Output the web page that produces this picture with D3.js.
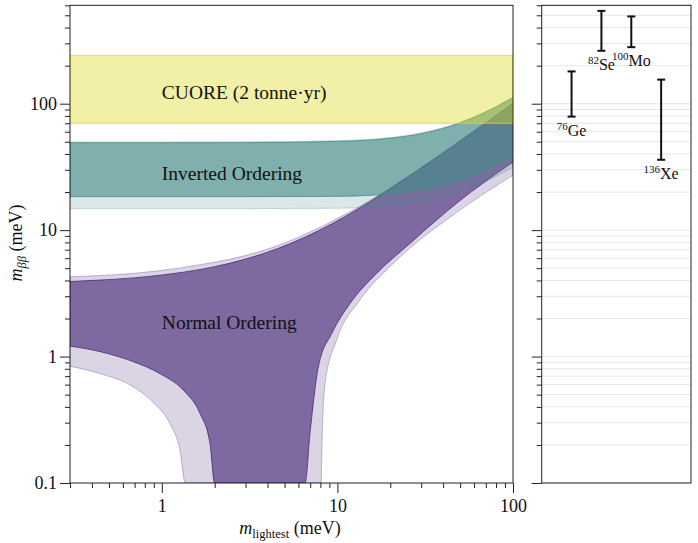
<!DOCTYPE html>
<html>
<head>
<meta charset="utf-8">
<script src="https://cdn.jsdelivr.net/npm/d3@7"></script>
<style>
  body { margin: 0; background: #fff; }
  svg text { font-family: "Liberation Serif", "DejaVu Serif", serif; fill: #111; }
</style>
</head>
<body>
<div id="chart"></div>
<script>
// lightest neutrino mass (meV) and m_bb band edges (meV)
// normal ordering, 1 sigma (dark) band
var noX = [0.3, 0.45, 0.69, 0.98, 1.33, 1.65, 1.88, 2.0, 3, 4.5, 6.55, 6.98, 7.79, 9.28, 11.8, 16.7, 25.9, 47.7, 100];
var noHigh = [3.92, 4.03, 4.19, 4.4, 4.65, 4.88, 5.05, 5.14, 5.9, 7.09, 8.81, 9.18, 9.9, 11.2, 13.5, 18.1, 27.0, 48.4, 100.4];
var noLow = [1.21, 1.09, 0.91, 0.73, 0.54, 0.355, 0.206, 0.1, 0.1, 0.1, 0.1, 0.247, 0.83, 1.52, 2.63, 4.54, 7.85, 16.3, 34.6];
// normal ordering, 3 sigma (light) band
var noX3 = [0.3, 0.45, 0.69, 0.9, 1.11, 1.27, 1.36, 3, 5, 8.07, 8.2, 8.5, 9.9, 13.4, 20.8, 49.9, 100];
var noHigh3 = [4.27, 4.38, 4.55, 4.72, 4.9, 5.02, 5.1, 6.3, 7.9, 10.6, 10.7, 11.0, 12.3, 15.4, 22.4, 50.8, 101];
var noLow3 = [0.84, 0.73, 0.575, 0.43, 0.296, 0.18, 0.1, 0.1, 0.1, 0.1, 0.25, 0.61, 1.35, 2.79, 5.45, 14.4, 27.2];
// inverted ordering
var ioX = [0.3, 1, 3, 10, 20, 30, 50, 70, 100];
var ioHigh = [49.1, 49.1, 49.2, 50.3, 53.3, 57.9, 70.4, 85.7, 111.6];
var ioLow = [18.4, 18.4, 18.4, 18.5, 19.4, 20.8, 25.0, 30.2, 39.2];
var ioHigh3 = [49.8, 49.8, 49.9, 51.0, 54.0, 58.7, 71.3, 86.8, 113];
var ioLow3 = [14.8, 14.8, 14.8, 14.9, 15.6, 16.7, 20.1, 24.3, 31.5];
// CUORE limit band
var cuoreBand = [70, 240];

var bandNames = ["CUORE (2 tonne\u00b7yr)", "Inverted Ordering", "Normal Ordering"];
var bandNameAt = [123, 28.2, 1.87];

// isotope limits (right panel)
var isoMass = ["76", "82", "100", "136"];
var isoName = ["Ge", "Se", "Mo", "Xe"];
var isoLow = [79, 262, 280, 36];
var isoHigh = [180, 542, 490, 155];

var xMajor = [1, 10, 100];
var yMajor = [0.1, 1, 10, 100];

var svgWidth = 698;
var svgHeight = 543;
var main = { left: 70, right: 513, top: 5.3, bottom: 483 };
var side = { left: 541.7, right: 691 };

var svg = d3.select("#chart")
  .append("svg")
  .attr("width", svgWidth)
  .attr("height", svgHeight);

var xScale = d3.scaleLog().domain([0.3, 100]).range([main.left, main.right]);
var yScale = d3.scaleLog().domain([0.1, 600]).range([main.bottom, main.top]);
var isoScale = d3.scaleLinear().domain([0, 5]).range([side.left, side.right]);

svg.append("clipPath")
  .attr("id", "plotClip")
  .append("rect")
  .attr("x", main.left)
  .attr("y", main.top)
  .attr("width", main.right - main.left)
  .attr("height", main.bottom - main.top);

function bandData(xs, lo, hi) {
  return xs.map(function (x, i) { return { x: x, lo: lo[i], hi: hi[i] }; });
}

var area = d3.area()
  .x(d => xScale(d.x))
  .y0(d => yScale(d.lo))
  .y1(d => yScale(d.hi))
  .curve(d3.curveMonotoneX);

// light bands first, dark on top, CUORE last
var bands = [
  { data: bandData(noX3, noLow3, noHigh3), color: "#482878", fill: 0.2, edge: 0.3 },
  { data: bandData(noX, noLow, noHigh), color: "#482878", fill: 0.625, edge: 0.8 },
  { data: bandData(ioX, ioLow3, ioHigh3), color: "#448b88", fill: 0.2, edge: 0.3 },
  { data: bandData(ioX, ioLow, ioHigh), color: "#448b88", fill: 0.6, edge: 0.8 },
  { data: bandData(xScale.domain(), [cuoreBand[0], cuoreBand[0]], [cuoreBand[1], cuoreBand[1]]), color: "#ded921", fill: 0.4, edge: 0.8 }
];

var plot = svg.append("g").attr("clip-path", "url(#plotClip)");

plot.selectAll("path.band")
  .data(bands)
  .enter()
  .append("path")
  .attr("class", "band")
  .attr("d", d => area(d.data))
  .attr("fill", d => d.color)
  .attr("fill-opacity", d => d.fill)
  .attr("stroke", d => d.color)
  .attr("stroke-opacity", d => d.edge)
  .attr("stroke-width", 1);

// band names
plot.selectAll("text.bandName")
  .data(bandNames)
  .enter()
  .append("text")
  .attr("class", "bandName")
  .attr("x", xScale(1))
  .attr("y", (d, i) => yScale(bandNameAt[i]))
  .attr("dominant-baseline", "central")
  .attr("font-size", 19.5)
  .text(d => d);

function isMajor(t) {
  var l = Math.log10(t);
  return Math.abs(l - Math.round(l)) < 1e-6;
}
var xMinor = xScale.ticks().filter(t => !isMajor(t));
var yMinor = yScale.ticks().filter(t => !isMajor(t));

// left panel axes
svg.append("g")
  .attr("transform", `translate(0, ${main.bottom})`)
  .call(d3.axisBottom(xScale).tickValues(xMajor).tickFormat(d => String(d)).tickSize(10).tickSizeOuter(0).tickPadding(6));
svg.append("g")
  .attr("transform", `translate(0, ${main.bottom})`)
  .call(d3.axisBottom(xScale).tickValues(xMinor).tickFormat("").tickSize(5).tickSizeOuter(0));

svg.append("g")
  .attr("transform", `translate(${main.left}, 0)`)
  .call(d3.axisLeft(yScale).tickValues(yMajor).tickFormat(d => String(d)).tickSize(10).tickSizeOuter(0).tickPadding(3));
svg.append("g")
  .attr("transform", `translate(${main.left}, 0)`)
  .call(d3.axisLeft(yScale).tickValues(yMinor).tickFormat("").tickSize(5).tickSizeOuter(0));

svg.selectAll(".tick text")
  .attr("font-size", 18)
  .style("font-family", "'Liberation Serif', serif")
  .attr("fill", "#111");
svg.selectAll(".domain").attr("stroke", "none");

svg.append("rect")
  .attr("x", main.left)
  .attr("y", main.top)
  .attr("width", main.right - main.left)
  .attr("height", main.bottom - main.top)
  .attr("fill", "none")
  .attr("stroke", "#222")
  .attr("stroke-width", 1);

// axis labels
var xLabel = svg.append("text")
  .attr("x", 290)
  .attr("y", 534)
  .attr("text-anchor", "middle")
  .attr("font-size", 18);
xLabel.append("tspan").attr("font-style", "italic").text("m");
xLabel.append("tspan").attr("font-size", 12.5).attr("dy", 4).text("lightest");
xLabel.append("tspan").attr("dy", -4).text(" (meV)");

var yLabel = svg.append("text")
  .attr("transform", "rotate(-90)")
  .attr("x", -243)
  .attr("y", 22)
  .attr("text-anchor", "middle")
  .attr("font-size", 18);
yLabel.append("tspan").attr("font-style", "italic").text("m");
yLabel.append("tspan").attr("font-style", "italic").attr("font-size", 12.5).attr("dy", 4).text("\u03b2\u03b2");
yLabel.append("tspan").attr("dy", -4).text(" (meV)");

// right panel: grid, ticks, frame
svg.append("g")
  .selectAll("line.grid")
  .data(yScale.ticks())
  .enter()
  .append("line")
  .attr("class", "grid")
  .attr("x1", side.left)
  .attr("x2", side.right)
  .attr("y1", d => yScale(d))
  .attr("y2", d => yScale(d))
  .attr("stroke", "#e6e6e6")
  .attr("stroke-width", 1);

var sideAxis = svg.append("g")
  .attr("transform", `translate(${side.left}, 0)`)
  .call(d3.axisLeft(yScale).tickValues(yMajor).tickFormat("").tickSize(10).tickSizeOuter(0));
var sideMinor = svg.append("g")
  .attr("transform", `translate(${side.left}, 0)`)
  .call(d3.axisLeft(yScale).tickValues(yMinor).tickFormat("").tickSize(5).tickSizeOuter(0));
sideAxis.select(".domain").attr("stroke", "none");
sideMinor.select(".domain").attr("stroke", "none");
svg.selectAll(".tick line").attr("stroke", "#222");

svg.append("rect")
  .attr("x", side.left)
  .attr("y", main.top)
  .attr("width", side.right - side.left)
  .attr("height", main.bottom - main.top)
  .attr("fill", "none")
  .attr("stroke", "#222")
  .attr("stroke-width", 1);

// isotope limits as error bars
var isotopes = isoName.map(function (name, i) {
  return { pos: i + 1, name: name, mass: isoMass[i], lo: isoLow[i], hi: isoHigh[i] };
});

var bars = svg.append("g")
  .selectAll("g")
  .data(isotopes)
  .enter()
  .append("g");

bars.append("line")
  .attr("x1", d => isoScale(d.pos))
  .attr("x2", d => isoScale(d.pos))
  .attr("y1", d => yScale(d.lo))
  .attr("y2", d => yScale(d.hi))
  .attr("stroke", "#111")
  .attr("stroke-width", 2);

bars.selectAll("line.cap")
  .data(d => [{ pos: d.pos, v: d.lo }, { pos: d.pos, v: d.hi }])
  .enter()
  .append("line")
  .attr("class", "cap")
  .attr("x1", d => isoScale(d.pos) - 4)
  .attr("x2", d => isoScale(d.pos) + 4)
  .attr("y1", d => yScale(d.v))
  .attr("y2", d => yScale(d.v))
  .attr("stroke", "#111")
  .attr("stroke-width", 2);

var isoText = bars.append("text")
  .attr("x", d => isoScale(d.pos))
  .attr("y", d => yScale(d.lo) + 19)
  .attr("text-anchor", "middle")
  .attr("font-size", 16);
isoText.append("tspan").attr("font-size", 11).attr("dy", -6).text(d => d.mass);
isoText.append("tspan").attr("dy", 6).text(d => d.name);
</script>
</body>
</html>
